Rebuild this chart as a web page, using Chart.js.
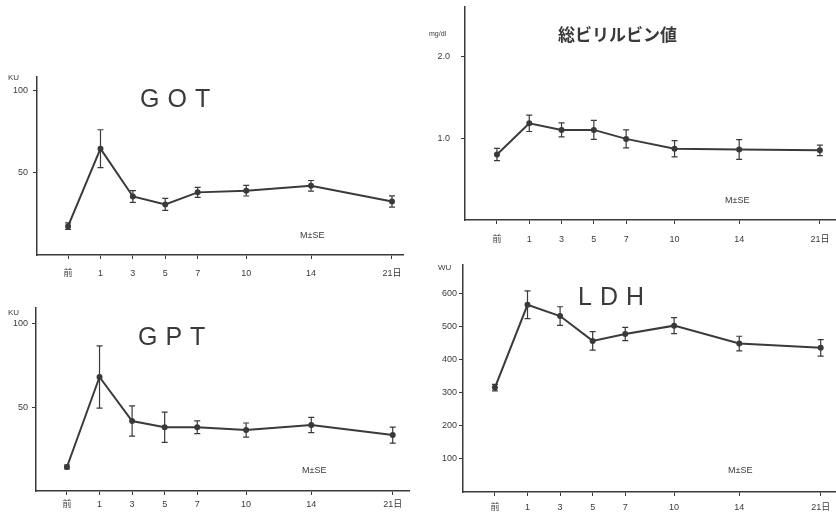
<!DOCTYPE html>
<html>
<head>
<meta charset="utf-8">
<script src="https://cdn.jsdelivr.net/npm/chart.js@4.4.0/dist/chart.umd.min.js"></script>
<style>
  body { margin: 0; width: 836px; height: 516px; overflow: hidden; background: #fff; position: relative; }
  canvas { position: absolute; }
  .txt { position: absolute; color: #3a3a3a; font-family: 'Liberation Sans', 'Noto Sans CJK JP', sans-serif; white-space: nowrap; line-height: 1; }
  .big { font-size: 25px; letter-spacing: 8px; }
  .unit { font-size: 8px; }
  .mse { font-size: 9px; }
</style>
</head>
<body>
<canvas id="cGot" width="410" height="230" style="left:0;top:60px"></canvas>
<canvas id="cGpt" width="415" height="226" style="left:0;top:290px"></canvas>
<canvas id="cBil" width="423" height="255" style="left:420px;top:0"></canvas>
<canvas id="cLdh" width="423" height="261" style="left:420px;top:255px"></canvas>

<div class="txt big" style="left:140px;top:86px">GOT</div>
<div class="txt big" style="left:138px;top:324px">GPT</div>
<div class="txt big" style="left:578px;top:284px">LDH</div>
<div class="txt" style="left:558px;top:25px;font-size:17px;font-weight:bold;font-family:'Noto Sans CJK JP'">総ビリルビン値</div>

<div class="txt unit" style="left:8px;top:74px">KU</div>
<div class="txt unit" style="left:8px;top:309px">KU</div>
<div class="txt unit" style="left:429px;top:30px;font-size:7px">mg/dl</div>
<div class="txt unit" style="left:438px;top:264px">WU</div>

<div class="txt mse" style="left:300px;top:231px">M±SE</div>
<div class="txt mse" style="left:302px;top:466px">M±SE</div>
<div class="txt mse" style="left:725px;top:196px">M±SE</div>
<div class="txt mse" style="left:728px;top:466px">M±SE</div>

<script>
// 測定日（前 = 術前）
const days = ['前', '1', '3', '5', '7', '10', '14', '21日'];
const dayPos = [0, 1, 2, 3, 4, 5.5, 7.5, 10];   // x軸上の間隔（図の通り不等間隔）

const gotMean = [17.5, 64.5, 35.5, 30.7, 38, 39, 42, 32.5];
const gotSE   = [2, 11.5, 3.6, 3.6, 3, 3.2, 3.2, 3.4];
const gotTicks = [50, 100];

const gptMean = [14.3, 67.9, 41.7, 38, 38, 36.3, 39.3, 33.3];
const gptSE   = [1.2, 18.5, 9, 9, 3.8, 4.2, 4.5, 4.8];
const gptTicks = [50, 100];

const bilMean = [0.80, 1.18, 1.10, 1.10, 0.99, 0.87, 0.86, 0.85];
const bilSE   = [0.075, 0.10, 0.085, 0.115, 0.11, 0.10, 0.12, 0.065];
const bilTicks = [1.0, 2.0];

const ldhMean = [315, 565, 531, 456, 477, 502, 448, 435];
const ldhSE   = [10, 42, 28, 28, 20, 24, 22, 25];
const ldhTicks = [100, 200, 300, 400, 500, 600];

const ink = '#3a3a3a';
const fontFam = "'Liberation Sans', 'Noto Sans CJK JP', sans-serif";

// 平均値 ± SE のエラーバーを描くプラグイン
const errorBars = {
    id: 'errorBars',
    afterDatasetsDraw(chart, args, opts) {
        const ctx = chart.ctx;
        const x = chart.scales.x, y = chart.scales.y;
        ctx.save();
        ctx.strokeStyle = ink;
        ctx.lineWidth = 1.2;
        chart.data.datasets[0].data.forEach(function (p, i) {
            const px = x.getPixelForValue(p.x);
            const top = y.getPixelForValue(p.y + opts.se[i]);
            const bot = y.getPixelForValue(p.y - opts.se[i]);
            ctx.beginPath();
            ctx.moveTo(px, top); ctx.lineTo(px, bot);
            ctx.moveTo(px - 3, top); ctx.lineTo(px + 3, top);
            ctx.moveTo(px - 3, bot); ctx.lineTo(px + 3, bot);
            ctx.stroke();
        });
        ctx.restore();
    }
};

function makePanel(id, mean, se, yTicks, lay) {
    const data = dayPos.map(function (p, i) { return {x: p, y: mean[i]}; });
    new Chart(document.getElementById(id), {
        type: 'line',
        data: {
            datasets: [{
                data: data,
                borderColor: ink,
                borderWidth: 2,
                pointRadius: 2,
                pointBackgroundColor: ink,
                pointBorderColor: ink,
                tension: 0
            }]
        },
        plugins: [errorBars],
        options: {
            responsive: false,
            animation: false,
            devicePixelRatio: 1,
            layout: {padding: {top: lay.padTop, right: lay.padRight, left: 0, bottom: 0}},
            plugins: {
                legend: {display: false},
                tooltip: {enabled: false},
                errorBars: {se: se}
            },
            scales: {
                x: {
                    type: 'linear',
                    min: lay.xMin,
                    max: lay.xMax,
                    border: {color: ink, width: 1.5},
                    grid: {display: true, drawOnChartArea: false, color: ink, tickLength: 4},
                    ticks: {
                        color: ink,
                        font: {family: fontFam, size: 9},
                        padding: lay.xPad,
                        maxRotation: 0,
                        autoSkip: false,
                        callback: function (v, i) { return days[i]; }
                    },
                    afterBuildTicks: function (s) { s.ticks = dayPos.map(function (v) { return {value: v}; }); },
                    afterFit: function (s) { s.height = lay.xH; s.paddingLeft = 0; s.paddingRight = 0; }
                },
                y: {
                    min: 0,
                    max: lay.yMax,
                    border: {color: ink, width: 1.5},
                    grid: {display: true, drawOnChartArea: false, color: ink, tickLength: 4},
                    ticks: {
                        color: ink,
                        font: {family: fontFam, size: 9},
                        padding: lay.yPad,
                        callback: function (v) { return lay.dec ? v.toFixed(1) : v; }
                    },
                    afterBuildTicks: function (s) { s.ticks = yTicks.map(function (v) { return {value: v}; }); },
                    afterFit: function (s) { s.width = lay.yW; s.paddingTop = 0; s.paddingBottom = 0; }
                }
            }
        }
    });
}

makePanel('cGot', gotMean, gotSE, gotTicks,
    {padTop: 17, padRight: 7, xH: 35, yW: 37, xMin: -0.96, xMax: 10.34, yMax: 108, xPad: 9, yPad: 5});
makePanel('cGpt', gptMean, gptSE, gptTicks,
    {padTop: 18, padRight: 0, xH: 25, yW: 36, xMin: -0.95, xMax: 10.5, yMax: 109, xPad: 4, yPad: 4});
makePanel('cBil', bilMean, bilSE, bilTicks,
    {padTop: 7, padRight: 0, xH: 35, yW: 45, xMin: -0.99, xMax: 10.53, yMax: 2.6, xPad: 10, yPad: 11, dec: true});
makePanel('cLdh', ldhMean, ldhSE, ldhTicks,
    {padTop: 10, padRight: 0, xH: 24, yW: 43, xMin: -0.98, xMax: 10.5, yMax: 685, xPad: 6, yPad: 2});
</script>
</body>
</html>
